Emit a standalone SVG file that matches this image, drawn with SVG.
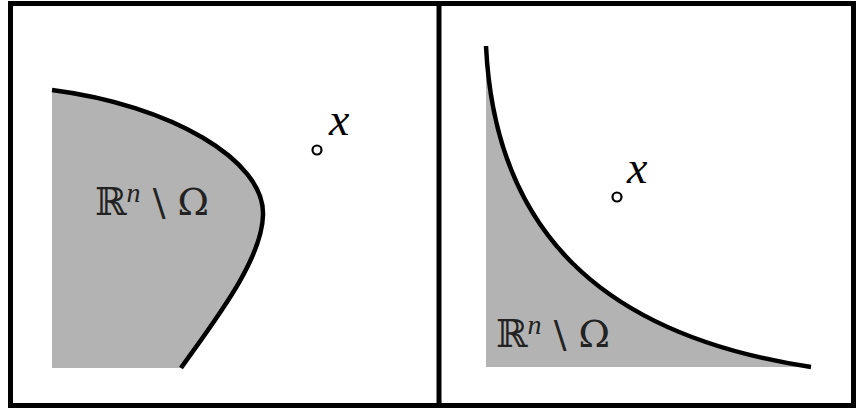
<svg xmlns="http://www.w3.org/2000/svg" width="859" height="408" viewBox="0 0 859 408">
<style>
.region{fill:#b3b3b3;stroke:none}
.bd{fill:none;stroke:#000;stroke-width:4.5;stroke-linecap:butt}
.pt{fill:#fff;stroke:#000;stroke-width:2.2}
.lbl{font-family:"DejaVu Serif","Liberation Serif",serif;font-size:38px;fill:#222}
.xl{font-family:"Liberation Serif",serif;font-style:italic;font-size:46px;fill:#000}
</style>
<rect x="0" y="0" width="859" height="408" fill="#fff"/>
<g id="frame">
<rect x="10.5" y="3.5" width="843" height="402" fill="none" stroke="#000" stroke-width="5"/>
<line x1="439" y1="3" x2="439" y2="406" stroke="#000" stroke-width="5"/>
</g>
<g id="left-region">
<path class="region" d="M52,90 C170,105 265,160 263,215 C262,260 215,320 181,368 L52,368 Z"/>
<path class="bd" d="M52,90 C170,105 265,160 263,215 C262,260 215,320 181,368"/>
<text class="lbl" x="95" y="215">ℝ<tspan font-family="Liberation Serif" font-style="italic" font-size="28" dy="-13">n</tspan><tspan dy="13"> \ Ω</tspan></text>
</g>
<g id="left-point">
<circle class="pt" cx="317" cy="150" r="4.5"/>
<text class="xl" x="329" y="135">x</text>
</g>
<g id="right-region">
<path class="region" d="M486,46 C495,230 600,335 811,367 L486,367 Z"/>
<path class="bd" d="M486,46 C495,230 600,335 811,367"/>
<text class="lbl" x="496" y="347">ℝ<tspan font-family="Liberation Serif" font-style="italic" font-size="28" dy="-13">n</tspan><tspan dy="13"> \ Ω</tspan></text>
</g>
<g id="right-point">
<circle class="pt" cx="617" cy="197" r="4.5"/>
<text class="xl" x="627" y="183">x</text>
</g>
</svg>
